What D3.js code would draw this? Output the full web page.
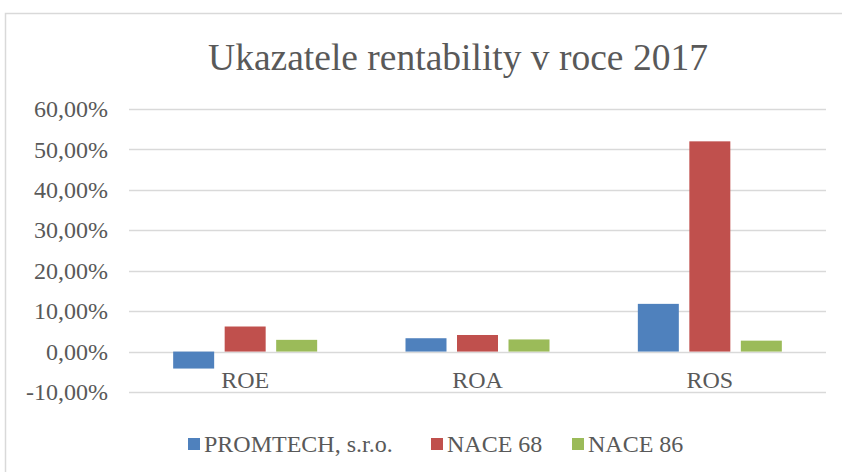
<!DOCTYPE html>
<html>
<head>
<meta charset="utf-8">
<script src="https://cdn.jsdelivr.net/npm/d3@7"></script>
<style>
  body { margin: 0; background: #fff; }
  svg text { font-family: "Liberation Serif", "Times New Roman", serif; fill: #595959; }
</style>
</head>
<body>
<div id="chart"></div>
<script>
const categories = ['ROE', 'ROA', 'ROS'];
const series = ['PROMTECH, s.r.o.', 'NACE 68', 'NACE 86'];
const colors = ['#4F81BD', '#C0504D', '#9BBB59'];
// hodnoty v %
const promtech = [-4.2, 3.3, 11.8];
const nace68   = [6.2, 4.1, 52.0];
const nace86   = [2.9, 3.0, 2.7];
const yTicks = [-10, 0, 10, 20, 30, 40, 50, 60];

const values = [promtech, nace68, nace86];
const width = 842, height = 472;

const svg = d3.select('#chart').append('svg')
  .attr('width', width)
  .attr('height', height);

// ramecek grafu
svg.append('rect')
  .attr('x', 5.5).attr('y', 13.5)
  .attr('width', 900).attr('height', 500)
  .attr('fill', 'none')
  .attr('stroke', '#d9d9d9')
  .attr('stroke-width', 1.5);

svg.append('text')
  .attr('x', 458).attr('y', 70)
  .attr('text-anchor', 'middle')
  .attr('font-size', 37.5)
  .text('Ukazatele rentability v roce 2017');

const x0 = d3.scaleBand().domain(categories).range([129, 826]);
const groupW = 144;
const x1 = d3.scaleBand().domain(series).range([0, groupW]).paddingInner(0.204);
const y = d3.scaleLinear().domain([-10, 60]).range([392, 109]);

// format jako v Excelu: -10,00%
const fmt = v => (v < 0 ? '-' : '') + Math.abs(v).toFixed(2).replace('.', ',') + '%';

// mrizka
svg.append('g')
  .selectAll('line')
  .data(yTicks)
  .join('line')
  .attr('x1', 129).attr('x2', 826)
  .attr('y1', d => Math.round(y(d)) + 0.5)
  .attr('y2', d => Math.round(y(d)) + 0.5)
  .attr('stroke', '#d9d9d9')
  .attr('stroke-width', 1.5);

svg.append('g')
  .selectAll('text')
  .data(yTicks)
  .join('text')
  .attr('x', 108)
  .attr('y', d => y(d))
  .attr('dy', '0.34em')
  .attr('text-anchor', 'end')
  .attr('font-size', 24)
  .text(fmt);

// sloupce
const bars = svg.append('g');
series.forEach((s, si) => {
  bars.append('g')
    .attr('fill', colors[si])
    .selectAll('rect')
    .data(values[si])
    .join('rect')
    .attr('x', (d, i) => x0(categories[i]) + (x0.bandwidth() - groupW) / 2 + x1(s))
    .attr('width', x1.bandwidth())
    .attr('y', d => y(Math.max(0, d)))
    .attr('height', d => Math.abs(y(d) - y(0)));
});

// popisky kategorii
svg.append('g')
  .selectAll('text')
  .data(categories)
  .join('text')
  .attr('x', d => x0(d) + x0.bandwidth() / 2)
  .attr('y', 388)
  .attr('text-anchor', 'middle')
  .attr('font-size', 24)
  .text(d => d);

// legenda
const legendX = [188, 431, 572];
const legend = svg.append('g');
series.forEach((s, si) => {
  legend.append('rect')
    .attr('x', legendX[si]).attr('y', 438)
    .attr('width', 12).attr('height', 12)
    .attr('fill', colors[si]);
  legend.append('text')
    .attr('x', legendX[si] + 16).attr('y', 452)
    .attr('font-size', 24)
    .text(s);
});
</script>
</body>
</html>
